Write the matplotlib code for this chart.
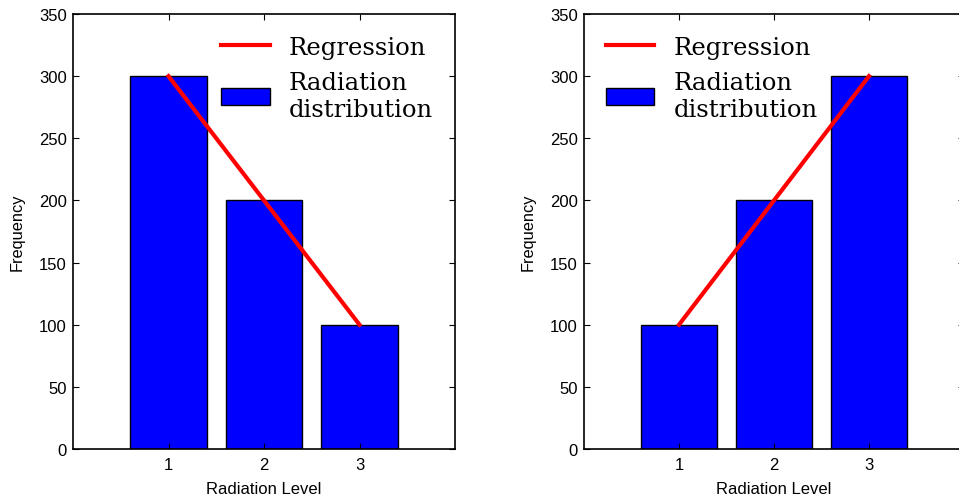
import numpy as np
import matplotlib.pyplot as plt

# Radiation levels and the two frequency distributions
levels = [1, 2, 3]
freq_decreasing = [300, 200, 100]
freq_increasing = [100, 200, 300]
y_ticks = [0, 50, 100, 150, 200, 250, 300, 350]

plt.rcParams['font.family'] = ['Liberation Sans', 'DejaVu Sans']
plt.rcParams['xtick.direction'] = 'in'
plt.rcParams['ytick.direction'] = 'in'
plt.rcParams['xtick.top'] = True
plt.rcParams['ytick.right'] = True
plt.rcParams['xtick.major.size'] = 4
plt.rcParams['ytick.major.size'] = 4
plt.rcParams['xtick.major.pad'] = 6
plt.rcParams['ytick.major.pad'] = 4.5

W, H = 959, 502
fig = plt.figure(figsize=(W / 100, H / 100), dpi=100)

# axes placed in pixel units
ax1 = fig.add_axes([73 / W, 52 / H, 382 / W, 435 / H])
ax2 = fig.add_axes([584 / W, 52 / H, 380 / W, 435 / H])


def draw(ax, freq, legend_loc):
    x = np.array(levels)
    y = np.array(freq)
    bars = ax.bar(x, y, width=0.8, color='#0000ff', edgecolor='black',
                  linewidth=1, label='Radiation\ndistribution')
    coef = np.polyfit(x, y, 1)
    line, = ax.plot(x, np.polyval(coef, x), color='red', linewidth=3,
                    label='Regression')
    ax.set_xlim(0, 4)
    ax.set_ylim(0, 350)
    ax.set_xticks(levels)
    ax.set_yticks(y_ticks)
    ax.tick_params(labelsize=12)
    ax.set_xlabel('Radiation Level', fontsize=12, labelpad=6)
    ax.set_ylabel('Frequency', fontsize=11.8, labelpad=10)
    for s in ax.spines.values():
        s.set_linewidth(1.2)
    ax.legend(handles=[line, bars], loc=legend_loc, frameon=False,
              prop={'family': 'DejaVu Serif', 'size': 17.5},
              handlelength=2.0, labelspacing=0.5)


draw(ax1, freq_decreasing, 'upper right')
draw(ax2, freq_increasing, 'upper left')

fig.savefig('out.png', dpi=100)
